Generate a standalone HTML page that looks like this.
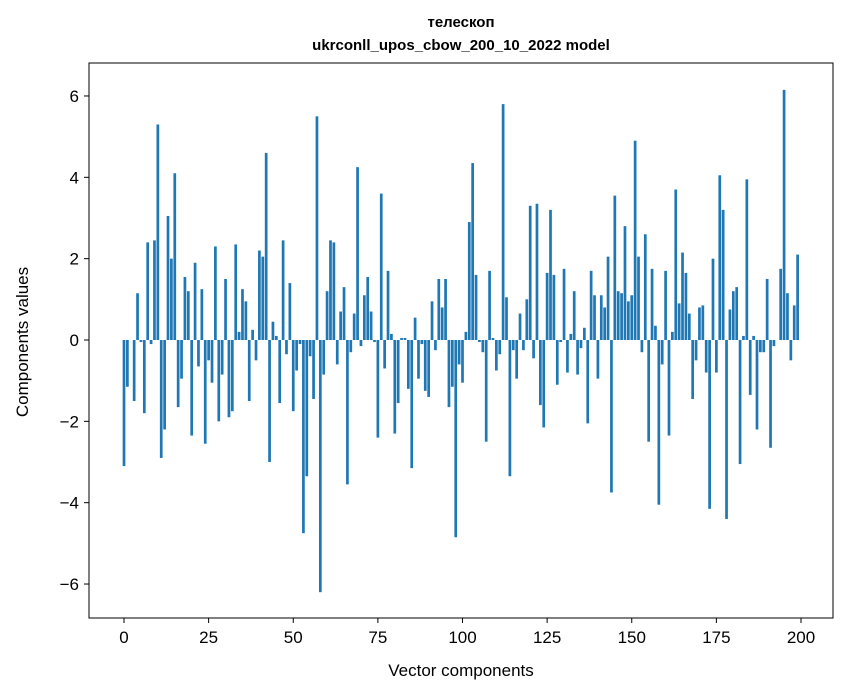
<!DOCTYPE html>
<html><head><meta charset="utf-8"><style>
body{margin:0;background:#fff;}
svg{display:block;font-family:"Liberation Sans","DejaVu Sans",sans-serif;}
</style></head><body>
<svg id="chart" width="847" height="696">
<text x="461" y="27" text-anchor="middle" font-size="15" font-weight="bold">телескоп</text>
<text x="461" y="50" text-anchor="middle" font-size="15" font-weight="bold">ukrconll_upos_cbow_200_10_2022 model</text>
<g id="bars"></g>
<g id="xticks"></g>
<g id="yticks"></g>
<rect x="89" y="63" width="744" height="555" fill="none" stroke="#000" stroke-width="1"/>
<text x="461" y="676" text-anchor="middle" font-size="17">Vector components</text>
<text x="28" y="342" text-anchor="middle" font-size="17" transform="rotate(-90 28 342)">Components values</text>
</svg>
<script>
const values=[-3.1,-1.15,0,-1.5,1.15,-0.05,-1.8,2.4,-0.1,2.45,5.3,-2.9,-2.2,3.05,2.0,4.1,-1.65,-0.95,1.55,1.2,
-2.35,1.9,-0.65,1.25,-2.55,-0.5,-1.05,2.3,-2.0,-0.85,1.5,-1.9,-1.75,2.35,0.2,1.25,0.95,-1.5,0.25,-0.5,
2.2,2.05,4.6,-3.0,0.45,0.1,-1.55,2.45,-0.35,1.4,-1.75,-0.75,-0.1,-4.75,-3.35,-0.4,-1.45,5.5,-6.2,-0.85,
1.2,2.45,2.4,-0.6,0.7,1.3,-3.55,-0.3,0.65,4.25,-0.15,1.1,1.55,0.7,-0.05,-2.4,3.6,-0.7,1.7,0.15,
-2.3,-1.55,0.05,0.05,-1.2,-3.15,0.55,-0.95,-0.1,-1.25,-1.4,0.95,-0.25,1.5,0.8,1.5,-1.65,-1.15,-4.85,-0.6,
-1.05,0.2,2.9,4.35,1.6,-0.05,-0.3,-2.5,1.7,0.05,-0.75,-0.35,5.8,1.05,-3.35,-0.25,-0.95,0.65,-0.25,1.0,
3.3,-0.45,3.35,-1.6,-2.15,1.65,3.2,1.6,-1.1,-0.05,1.75,-0.8,0.15,1.2,-0.85,-0.2,0.3,-2.05,1.7,1.1,
-0.95,1.1,0.8,2.05,-3.75,3.55,1.2,1.15,2.8,0.95,1.1,4.9,2.05,-0.3,2.6,-2.5,1.75,0.35,-4.05,-0.6,
1.7,-2.35,0.2,3.7,0.9,2.15,1.65,0.65,-1.45,-0.5,0.8,0.85,-0.8,-4.15,2.0,-0.8,4.05,3.2,-4.4,0.75,
1.2,1.3,-3.05,0.1,3.95,-1.35,0.1,-2.2,-0.3,-0.3,1.5,-2.65,-0.15,0,1.75,6.15,1.15,-0.5,0.85,2.1];
const xTicks=[0,25,50,75,100,125,150,175,200];
const yTicks=[-6,-4,-2,0,2,4,6];
const NS="http://www.w3.org/2000/svg";
function xs(v){return 124+v*3.385;}
function ys(v){return 340-v*40.67;}
const bars=document.getElementById('bars');
values.forEach((v,i)=>{
  const r=document.createElementNS(NS,'rect');
  
  
  r.setAttribute('x',xs(i-0.4));
  r.setAttribute('width',0.8*3.385);
  r.setAttribute('y',Math.min(ys(v),ys(0)));
  r.setAttribute('height',Math.abs(ys(v)-ys(0)));
  r.setAttribute('fill','#1f77b4');
  bars.appendChild(r);
});
const xg=document.getElementById('xticks');
xTicks.forEach(t=>{
  const l=document.createElementNS(NS,'line');
  
  
  l.setAttribute('x1',xs(t));l.setAttribute('x2',xs(t));l.setAttribute('y1',618);l.setAttribute('y2',623);
  l.setAttribute('stroke','#000');
  xg.appendChild(l);
  const tx=document.createElementNS(NS,'text');
  
  
  tx.setAttribute('x',xs(t));tx.setAttribute('y',643);tx.setAttribute('text-anchor','middle');tx.setAttribute('font-size','17');
  tx.textContent=t;
  xg.appendChild(tx);
});
const yg=document.getElementById('yticks');
yTicks.forEach(t=>{
  const l=document.createElementNS(NS,'line');
  
  
  l.setAttribute('x1',84);l.setAttribute('x2',89);l.setAttribute('y1',ys(t));l.setAttribute('y2',ys(t));
  l.setAttribute('stroke','#000');
  yg.appendChild(l);
  const tx=document.createElementNS(NS,'text');
  
  
  tx.setAttribute('x',79);tx.setAttribute('y',ys(t)+6);tx.setAttribute('text-anchor','end');tx.setAttribute('font-size','17');
  tx.textContent=t<0?'\u2212'+Math.abs(t):t;
  yg.appendChild(tx);
});
</script>
</body></html>
